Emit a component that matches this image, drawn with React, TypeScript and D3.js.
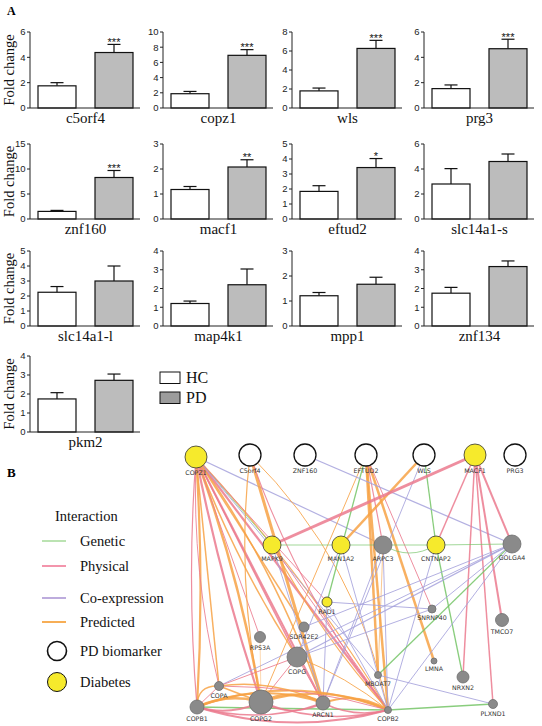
import React from 'react';
import * as d3 from 'd3';

// ---------- Panel A data ----------
const genes = ['c5orf4', 'copz1', 'wls', 'prg3', 'znf160', 'macf1', 'eftud2', 'slc14a1-s', 'slc14a1-l', 'map4k1', 'mpp1', 'znf134', 'pkm2'];
const groups = ['HC', 'PD'];
const hcMean = [1.75, 1.88, 1.8, 1.53, 1.52, 1.18, 1.84, 2.8, 2.25, 1.2, 1.21, 1.75, 1.74];
const hcUpper = [2.0, 2.18, 2.1, 1.82, 1.72, 1.3, 2.22, 4.03, 2.63, 1.33, 1.34, 2.06, 2.07];
const pdMean = [4.38, 6.93, 6.27, 4.68, 8.3, 2.08, 3.43, 4.6, 3.0, 2.2, 1.67, 3.17, 2.72];
const pdUpper = [5.02, 7.68, 7.12, 5.43, 9.7, 2.37, 4.03, 5.2, 4.0, 3.04, 1.95, 3.47, 3.05];
const yMax = [6, 10, 8, 6, 15, 3, 5, 6, 5, 4, 3, 4, 4];
const yStep = [2, 2, 2, 2, 5, 1, 1, 2, 1, 1, 1, 1, 1];
const stars = ['***', '***', '***', '***', '***', '**', '*', '', '', '', '', '', ''];

// ---------- Panel B data ----------
const netNames = ['COPZ1', 'C5orf4', 'ZNF160', 'EFTUD2', 'WLS', 'MACF1', 'PRG3', 'MAPK9', 'MAN1A2', 'ARPC3', 'CNTNAP2', 'GOLGA4', 'RAD1', 'SNRNP40', 'TMCO7', 'SDR42E2', 'RPS3A', 'COPG', 'LMNA', 'MBOAT7', 'NRXN2', 'COPA', 'COPB1', 'COPG2', 'ARCN1', 'COPB2', 'PLXND1'];
const netLayoutX = [196, 250, 305, 366, 424, 475, 515, 272, 341, 383, 436, 512, 327, 432, 502, 304, 260, 297, 434, 378, 463, 219, 197, 261, 323, 388, 493];
const netLayoutY = [457, 455, 455, 455, 455, 455, 455, 545, 545, 545, 545, 544, 602, 609, 620, 627, 637, 657, 661, 675, 677, 686, 707, 702, 703, 710, 704];
const netSize = [11, 11, 11, 11, 11, 11, 11, 9, 9, 9, 9, 9, 5, 4, 6.5, 5, 5.5, 10, 3, 3.5, 6, 4.5, 7, 12, 7, 3.5, 4.5];
const netGroup = ['diab', 'pd', 'pd', 'pd', 'pd', 'diab', 'pd', 'diab', 'diab', 'other', 'diab', 'other', 'diab', 'other', 'other', 'other', 'other', 'other', 'other', 'other', 'other', 'other', 'other', 'other', 'other', 'other', 'other'];

// edges: source, target, type (G genetic, P physical, C co-expression, R predicted), weight, bend
const netEdges: [string, string, string, number, number][] = [
  ['COPZ1', 'COPB1', 'R', 2.2, -4], ['COPZ1', 'COPB1', 'P', 1.2, 5],
  ['COPZ1', 'COPA', 'R', 1.5, 0], ['COPZ1', 'COPA', 'P', 1, 8],
  ['COPZ1', 'COPG2', 'R', 2.5, -6], ['COPZ1', 'COPG2', 'P', 2.2, 4],
  ['COPZ1', 'ARCN1', 'P', 2, 0], ['COPZ1', 'ARCN1', 'R', 1.5, -10],
  ['COPZ1', 'COPB2', 'P', 2.2, 0], ['COPZ1', 'COPB2', 'R', 1.2, -8],
  ['COPZ1', 'COPG', 'P', 1.5, 0], ['COPZ1', 'COPG', 'R', 1.5, 6],
  ['COPZ1', 'RPS3A', 'P', 1, 0], ['COPZ1', 'SDR42E2', 'R', 1.5, 0],
  ['COPZ1', 'ARPC3', 'C', 1.2, 0], ['COPZ1', 'MAPK9', 'G', 0.8, 0],
  ['COPZ1', 'MBOAT7', 'C', 1, 0], ['COPZ1', 'RAD1', 'P', 1, 0],
  ['C5orf4', 'ARCN1', 'R', 3, 0], ['C5orf4', 'COPB2', 'P', 1.1, 12],
  ['C5orf4', 'COPB2', 'R', 1, -22], ['C5orf4', 'COPG2', 'R', 1.2, 10],
  ['EFTUD2', 'RAD1', 'G', 1.3, 0], ['EFTUD2', 'COPB2', 'R', 2.5, 0],
  ['EFTUD2', 'MBOAT7', 'R', 2.5, 0], ['EFTUD2', 'LMNA', 'R', 2.5, 0],
  ['EFTUD2', 'ARPC3', 'P', 1.2, 0], ['EFTUD2', 'COPG2', 'R', 1, 0],
  ['EFTUD2', 'SNRNP40', 'P', 1, 0],
  ['WLS', 'MAN1A2', 'R', 2.5, 0], ['WLS', 'CNTNAP2', 'G', 1.3, 0], ['WLS', 'ARCN1', 'C', 1, 0],
  ['ZNF160', 'GOLGA4', 'C', 1.3, 0],
  ['MACF1', 'MAPK9', 'P', 3, 0], ['MACF1', 'CNTNAP2', 'P', 1.5, 0], ['MACF1', 'GOLGA4', 'P', 2, 0],
  ['MACF1', 'NRXN2', 'P', 1.5, 0], ['MACF1', 'PLXND1', 'P', 1.5, 0], ['MACF1', 'TMCO7', 'P', 2, 0],
  ['MAPK9', 'MAN1A2', 'G', 0.8, 0], ['MAN1A2', 'ARPC3', 'G', 0.8, 0], ['ARPC3', 'CNTNAP2', 'G', 0.8, 0],
  ['CNTNAP2', 'GOLGA4', 'G', 0.8, 0], ['ARPC3', 'CNTNAP2', 'G', 0.8, 8],
  ['MAPK9', 'COPB2', 'P', 1, 0], ['MAPK9', 'ARCN1', 'C', 1, 0], ['MAPK9', 'COPB2', 'R', 1.2, 6],
  ['MAN1A2', 'COPG', 'C', 1, 0], ['MAN1A2', 'COPB2', 'C', 1, 0],
  ['ARPC3', 'COPB2', 'C', 1, 0], ['ARPC3', 'ARCN1', 'C', 1, 0], ['ARPC3', 'MBOAT7', 'R', 0.7, 0],
  ['CNTNAP2', 'NRXN2', 'G', 1.3, 0], ['CNTNAP2', 'COPB2', 'C', 1, 0],
  ['GOLGA4', 'COPG', 'C', 1.2, 0], ['GOLGA4', 'COPA', 'C', 1, 0], ['GOLGA4', 'MBOAT7', 'G', 1.3, 0],
  ['GOLGA4', 'SNRNP40', 'C', 1, 0], ['GOLGA4', 'COPB2', 'C', 1, 0], ['GOLGA4', 'SDR42E2', 'C', 1, 0],
  ['RAD1', 'SNRNP40', 'C', 1, 0], ['RAD1', 'ARCN1', 'C', 1, 0], ['RAD1', 'COPB2', 'C', 1, 0],
  ['SNRNP40', 'COPG', 'C', 1, 0], ['MBOAT7', 'PLXND1', 'C', 1, 0],
  ['COPB2', 'PLXND1', 'G', 1.5, 0], ['COPB1', 'COPB2', 'G', 1.5, 0],
  ['RPS3A', 'COPG2', 'R', 0.5, 0], ['COPG', 'ARCN1', 'P', 1, 0], ['COPG', 'COPG2', 'P', 1, 0],
  ['COPG', 'COPB2', 'R', 1, -4], ['COPG', 'COPA', 'P', 1, 0],
  ['COPB1', 'COPG2', 'R', 2.5, -6], ['COPB1', 'COPG2', 'P', 2, 6],
  ['COPB1', 'ARCN1', 'R', 2, -12], ['COPB1', 'ARCN1', 'P', 1.5, 10],
  ['COPB1', 'COPB2', 'R', 2, -18], ['COPB1', 'COPB2', 'P', 2, 14],
  ['COPG2', 'ARCN1', 'R', 2.5, -8], ['COPG2', 'ARCN1', 'P', 1.5, 8],
  ['COPG2', 'COPB2', 'R', 2, -12], ['COPG2', 'COPB2', 'P', 1.5, 10],
  ['ARCN1', 'COPB2', 'R', 2, -8], ['ARCN1', 'COPB2', 'P', 1.5, 6],
  ['COPA', 'COPB2', 'P', 1, -6], ['COPA', 'ARCN1', 'R', 1.5, -8], ['COPA', 'COPG2', 'R', 1.5, 0],
  ['COPA', 'COPB1', 'R', 1.5, 8], ['COPA', 'COPB1', 'P', 1, 0],
];

const legendTypes = ['Genetic', 'Physical', 'Co-expression', 'Predicted'];
const legendNodes = ['PD biomarker', 'Diabetes'];

const edgeColor: Record<string, string> = { G: '#74c466', P: '#eb7a8e', C: '#a6a2dc', R: '#f7a245' };
const legendColor = ['#b4e0aa', '#f28aa3', '#b6a3da', '#f6a543'];

const colAxis = [30, 163, 292, 424];
const rowTop = [32, 144, 251, 356];
const rowBase = [108, 219, 326, 432];
const serif = '"Liberation Serif", "Times New Roman", serif';
const sans = '"Liberation Sans", Arial, sans-serif';

function BarPanel({ i }: { i: number }) {
  const col = i % 4;
  const row = Math.floor(i / 4);
  const ax = colAxis[col];
  const y = d3.scaleLinear().domain([0, yMax[i]]).range([rowBase[row], rowTop[row]]);
  const x = d3.scaleBand<string>().domain(groups).range([ax + 8, ax + 103]).paddingInner(1 / 3);
  const ticks = d3.range(0, yMax[i] + 1e-9, yStep[i]);
  const means = [hcMean[i], pdMean[i]];
  const uppers = [hcUpper[i], pdUpper[i]];
  const bw = x.bandwidth();
  return (
    <g>
      {groups.map((g, k) => (
        <g key={g}>
          <line x1={x(g)! + bw / 2} x2={x(g)! + bw / 2} y1={y(means[k])} y2={y(uppers[k])} stroke="#111" strokeWidth={1.2} />
          <line x1={x(g)! + bw / 2 - 6.5} x2={x(g)! + bw / 2 + 6.5} y1={y(uppers[k])} y2={y(uppers[k])} stroke="#111" strokeWidth={1.2} />
          <rect x={x(g)} y={y(means[k])} width={bw} height={y(0) - y(means[k])}
            fill={k === 0 ? '#fff' : '#bcbcbc'} stroke="#111" strokeWidth={1.2} />
        </g>
      ))}
      {stars[i] && (
        <text x={x('PD')! + bw / 2} y={y(pdUpper[i]) + 1.5} textAnchor="middle" fontFamily={sans} fontSize={11} fill="#111">{stars[i]}</text>
      )}
      <line x1={ax} x2={ax} y1={y(0)} y2={y(yMax[i])} stroke="#222" strokeWidth={1} />
      <line x1={ax} x2={ax + 110} y1={y(0)} y2={y(0)} stroke="#222" strokeWidth={1.2} />
      {ticks.map((t) => (
        <g key={t}>
          <line x1={ax - 3} x2={ax} y1={y(t)} y2={y(t)} stroke="#222" strokeWidth={1} />
          <text x={ax - 4.5} y={y(t) + 3.3} textAnchor="end" fontFamily={sans} fontSize={9.5} fill="#222">{t}</text>
        </g>
      ))}
      <text x={(x('HC')! + x('PD')! + bw) / 2} y={y(0) + 15} textAnchor="middle" fontFamily={serif} fontSize={15} fill="#111">{genes[i]}</text>
      {col === 0 && (
        <text transform={`translate(14,${(rowTop[row] + rowBase[row]) / 2}) rotate(-90)`} textAnchor="middle"
          fontFamily={serif} fontSize={14.5} fill="#111">Fold change</text>
      )}
    </g>
  );
}

function Network() {
  const sx = d3.scaleLinear().domain([190, 520]).range([190, 520]);
  const sy = d3.scaleLinear().domain([450, 715]).range([450, 715]);
  const idx = new Map(netNames.map((n, k) => [n, k]));
  const r = d3.scaleLinear().domain([0, 12]).range([0, 12]);
  const pathFor = (e: [string, string, string, number, number]) => {
    const a = idx.get(e[0])!, b = idx.get(e[1])!;
    const x1 = sx(netLayoutX[a]), y1 = sy(netLayoutY[a]);
    const x2 = sx(netLayoutX[b]), y2 = sy(netLayoutY[b]);
    const p = d3.path();
    p.moveTo(x1, y1);
    if (e[4] === 0) {
      p.lineTo(x2, y2);
    } else {
      const dx = x2 - x1, dy = y2 - y1;
      const len = Math.hypot(dx, dy);
      const nx = -dy / len, ny = dx / len;
      p.quadraticCurveTo((x1 + x2) / 2 + nx * e[4] * 2, (y1 + y2) / 2 + ny * e[4] * 2, x2, y2);
    }
    return p.toString();
  };
  return (
    <g>
      {netEdges.map((e, k) => (
        <path key={k} d={pathFor(e)} fill="none" stroke={edgeColor[e[2]]} strokeWidth={e[3]} strokeOpacity={0.85} />
      ))}
      {netNames.map((n, k) => {
        const g = netGroup[k];
        return (
          <circle key={n} cx={sx(netLayoutX[k])} cy={sy(netLayoutY[k])} r={r(netSize[k])}
            fill={g === 'pd' ? '#fff' : g === 'diab' ? '#f6ea2c' : '#8a8a8a'}
            stroke={g === 'pd' ? '#111' : g === 'diab' ? '#333' : '#6f6f6f'}
            strokeWidth={g === 'pd' ? 1.3 : 0.8} />
        );
      })}
      {netNames.map((n, k) => (
        <text key={n} x={sx(netLayoutX[k])} y={sy(netLayoutY[k]) + r(netSize[k]) + 7} textAnchor="middle"
          fontFamily='"DejaVu Sans", sans-serif' fontSize={6.3} fill="#333">{n}</text>
      ))}
    </g>
  );
}

export default function App() {
  return (
    <svg width={542} height={726} style={{ position: 'absolute', left: 0, top: 0, background: '#fff' }}>
      <rect width={542} height={726} fill="#fff" />
      <text x={7} y={15} fontFamily={serif} fontWeight="bold" fontSize={12}>A</text>
      {genes.map((g, i) => <BarPanel key={g} i={i} />)}
      {groups.map((g, k) => (
        <g key={g}>
          <rect x={160} y={372 + k * 20} width={20} height={11.5} fill={k === 0 ? '#fff' : '#9c9c9c'} stroke="#111" strokeWidth={1} />
          <text x={186} y={383 + k * 20} fontFamily={serif} fontSize={16} fill="#111">{g}</text>
        </g>
      ))}
      <text x={7} y={477} fontFamily={serif} fontWeight="bold" fontSize={13}>B</text>
      <text x={55} y={521} fontFamily={serif} fontSize={14.5} fill="#111">Interaction</text>
      {legendTypes.map((t, k) => {
        const yy = [541, 566, 598, 622][k];
        return (
          <g key={t}>
            <line x1={42} x2={66} y1={yy} y2={yy} stroke={legendColor[k]} strokeWidth={1.8} />
            <text x={80} y={yy + 5} fontFamily={serif} fontSize={14.5} fill="#111">{t}</text>
          </g>
        );
      })}
      {legendNodes.map((t, k) => {
        const yy = [651, 682][k];
        return (
          <g key={t}>
            <circle cx={57} cy={yy} r={9.5} fill={k === 0 ? '#fff' : '#f6ea2c'} stroke="#111" strokeWidth={k === 0 ? 1.6 : 1} />
            <text x={80} y={yy + 5} fontFamily={serif} fontSize={14.5} fill="#111">{t}</text>
          </g>
        );
      })}
      <Network />
    </svg>
  );
}
